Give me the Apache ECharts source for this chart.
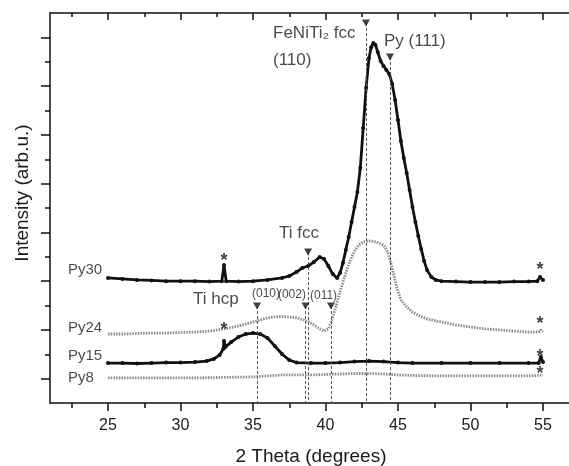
<!DOCTYPE html>
<html>
<head>
<meta charset="utf-8">
<script src="https://cdn.jsdelivr.net/npm/echarts@6/dist/echarts.min.js"></script>
<style>
  html, body { margin: 0; padding: 0; background: #fff; }
  #chart { width: 569px; height: 466px; }
</style>
</head>
<body>
<div id="chart"></div>
<script>
// 2 theta vs intensity (arb. units, offset stacked)
const py30 = [
  [25, 5.13], [26, 5.09], [27, 5.05], [28, 5.03], [29, 5.0], [30, 5.0], [31, 5.0], [32, 4.98],
  [32.85, 5.0], [33.0, 5.66], [33.15, 5.0], [34, 4.98], [35, 5.0], [36, 5.05], [37, 5.13],
  [37.5, 5.21], [38.0, 5.37], [38.4, 5.54], [38.8, 5.62], [39.2, 5.78], [39.6, 5.99], [39.9, 5.91],
  [40.2, 5.62], [40.5, 5.29], [40.8, 5.13], [41.0, 5.33], [41.2, 5.74], [41.4, 6.28], [41.6, 6.81],
  [41.8, 7.43], [42.0, 8.04], [42.2, 8.66], [42.4, 9.64], [42.6, 11.28], [42.8, 12.92], [43.0, 14.15],
  [43.15, 14.6], [43.3, 14.77], [43.45, 14.69], [43.6, 14.4], [43.8, 14.03], [44.0, 13.83],
  [44.2, 13.66], [44.4, 13.5], [44.6, 13.09], [44.8, 12.43], [45.0, 11.61], [45.2, 10.75],
  [45.4, 10.05], [45.6, 9.44], [45.8, 8.74], [46.0, 8.04], [46.2, 7.43], [46.4, 6.85], [46.6, 6.32],
  [46.8, 5.83], [47.0, 5.46], [47.3, 5.17], [47.6, 5.05], [48, 5.0], [49, 4.98], [50, 4.96],
  [51, 4.96], [52, 4.96], [53, 4.98], [54, 4.98], [54.6, 5.0], [54.8, 5.17], [55, 5.05]
];
const py24 = [
  [25, 2.83], [26, 2.83], [27, 2.85], [28, 2.87], [29, 2.87], [30, 2.89], [31, 2.91], [32, 2.95],
  [33, 3.04], [34, 3.16], [35, 3.32], [35.5, 3.41], [36, 3.49], [36.5, 3.53], [37, 3.55], [37.5, 3.53],
  [38, 3.49], [38.5, 3.41], [39, 3.28], [39.5, 3.08], [39.9, 2.95], [40.2, 3.04], [40.5, 3.49],
  [40.8, 4.14], [41.1, 4.76], [41.4, 5.33], [41.7, 5.83], [42.0, 6.24], [42.3, 6.48], [42.6, 6.61],
  [43.0, 6.65], [43.5, 6.61], [44.0, 6.48], [44.3, 6.19], [44.6, 5.54], [44.9, 4.76], [45.2, 4.23],
  [45.6, 3.94], [46.0, 3.73], [46.5, 3.57], [47, 3.45], [48, 3.32], [49, 3.2], [50, 3.12], [51, 3.04],
  [52, 3.0], [53, 2.95], [54, 2.91], [54.7, 2.91], [54.85, 3.0], [55, 2.91]
];
const py15 = [
  [25, 1.64], [26, 1.64], [27, 1.62], [28, 1.64], [29, 1.66], [30, 1.66], [31, 1.68], [31.8, 1.72],
  [32.3, 1.81], [32.7, 1.97], [32.95, 2.22], [33.0, 2.54], [33.1, 2.3], [33.5, 2.5], [34.0, 2.71],
  [34.5, 2.83], [35.0, 2.87], [35.5, 2.83], [36.0, 2.67], [36.5, 2.34], [37.0, 2.01], [37.5, 1.76],
  [38, 1.66], [39, 1.64], [40, 1.64], [41, 1.66], [42, 1.7], [43, 1.72], [44, 1.7], [45, 1.66],
  [46, 1.64], [48, 1.64], [50, 1.64], [52, 1.64], [54, 1.64], [54.7, 1.64], [54.85, 1.89], [55, 1.68]
];
const py8 = [
  [25, 1.03], [27, 1.03], [29, 1.03], [31, 1.03], [33, 1.05], [35, 1.07], [36, 1.11], [37, 1.15],
  [38, 1.15], [39, 1.15], [40, 1.17], [41, 1.19], [42, 1.21], [43, 1.21], [44, 1.19], [45, 1.15],
  [46, 1.13], [48, 1.11], [50, 1.11], [52, 1.11], [54, 1.11], [55, 1.15]
];

// reflection markers: [2theta, height of the triangle]
const peakMarks = [[42.79, 15.59], [44.45, 14.19], [38.8, 6.19], [35.28, 3.98], [38.62, 3.98], [40.38, 3.98]];
// impurity asterisks
const starMarks = [[33.0, 5.99], [33.0, 3.16], [54.8, 5.62], [54.8, 3.41], [54.8, 2.05], [54.8, 1.35]];

// annotation text: [x, y, text, font size]
const notes = [
  [22.24, 5.46, 'Py30', 15], [22.24, 3.08, 'Py24', 15], [22.24, 1.93, 'Py15', 15], [22.24, 1.03, 'Py8', 15],
  [36.38, 15.18, 'FeNiTi\u2082 fcc', 17], [36.38, 14.07, '(110)', 17], [44.03, 14.85, 'Py (111)', 17],
  [36.8, 6.97, 'Ti fcc', 17], [30.86, 4.27, 'Ti hcp', 17],
  [34.93, 4.47, '(010)', 12], [36.72, 4.43, '(002)', 12], [38.93, 4.39, '(011)', 12]
];

const xMajor = [25, 30, 35, 40, 45, 50, 55];
const xMinor = [22.5, 27.5, 32.5, 37.5, 42.5, 47.5, 52.5];
const yMajor = [1, 3, 5, 7, 9, 11, 13, 15];
const yMinor = [2, 4, 6, 8, 10, 12, 14];

const font = 'Liberation Sans, Arial, sans-serif';
const ink = '#111';
const textInk = '#1a1a1a';

function tickAxis(pos, values, len, inside, withLine, withLabel) {
  return {
    type: 'value', min: 21, max: 57, position: pos,
    axisLine: { show: withLine, lineStyle: { color: ink, width: 1.5 } },
    axisTick: { show: true, customValues: values, length: len, inside: inside, lineStyle: { color: ink, width: 1.5 } },
    axisLabel: withLabel
      ? { show: true, customValues: values, fontSize: 16, color: textInk, fontFamily: font, margin: 15 }
      : { show: false },
    splitLine: { show: false }
  };
}

const chart = echarts.init(document.getElementById('chart'));

const blackLine = (name, data) => ({
  name: name, type: 'line', data: data,
  showSymbol: true, symbol: 'circle', symbolSize: 4,
  itemStyle: { color: ink },
  lineStyle: { color: ink, width: 2.8 },
  animation: false, z: 3
});
const grayLine = (name, data) => ({
  name: name, type: 'line', data: data,
  showSymbol: false,
  lineStyle: { color: '#8a8a8a', width: 2.8, type: [1.5, 1.2] },
  animation: false, z: 2
});

chart.setOption({
  backgroundColor: '#fff',
  animation: false,
  grid: { left: 50, top: 13, right: -3, bottom: 63, outerBoundsMode: 'none' },
  xAxis: [
    Object.assign(tickAxis('bottom', xMajor, 8, false, true, true), {
      name: '2 Theta (degrees)', nameLocation: 'middle', nameGap: 44,
      nameTextStyle: { fontSize: 19, color: textInk, fontFamily: font }
    }),
    tickAxis('bottom', xMinor, 5, false, false, false),
    tickAxis('top', xMajor, 7, true, true, false),
    tickAxis('top', xMinor, 4, true, false, false)
  ],
  yAxis: [
    {
      type: 'value', min: 0, max: 16, position: 'left',
      axisLine: { show: true, lineStyle: { color: ink, width: 1.5 } },
      axisTick: { show: true, customValues: yMajor, length: 9, lineStyle: { color: ink, width: 1.5 } },
      axisLabel: { show: false }, splitLine: { show: false }
    },
    {
      type: 'value', min: 0, max: 16, position: 'left',
      axisLine: { show: false },
      axisTick: { show: true, customValues: yMinor, length: 5, lineStyle: { color: ink, width: 1.5 } },
      axisLabel: { show: false }, splitLine: { show: false }
    }
  ],
  graphic: [{
    type: 'text', x: 23, y: 193, rotation: Math.PI / 2,
    style: { text: 'Intensity (arb.u.)', fontSize: 19, fill: textInk, fontFamily: font, align: 'center', verticalAlign: 'middle' }
  }],
  series: [
    grayLine('Py8', py8),
    blackLine('Py15', py15),
    grayLine('Py24', py24),
    blackLine('Py30', py30),
    {
      name: 'marks', type: 'scatter', data: peakMarks,
      symbol: 'triangle', symbolRotate: 180, symbolSize: [8, 7],
      itemStyle: { color: ink }, z: 5,
      markLine: {
        silent: true, symbol: 'none', animation: false,
        label: { show: false },
        lineStyle: { color: '#555', width: 1, type: [3, 2] },
        data: peakMarks.map(p => [{ coord: [p[0], p[1]] }, { coord: [p[0], 0] }])
      }
    },
    {
      name: 'stars', type: 'scatter', data: starMarks, symbolSize: 0,
      label: { show: true, position: [0, 0], formatter: '*', fontSize: 18, fontWeight: 'bold', color: ink, fontFamily: font,
        align: 'center', verticalAlign: 'middle', offset: [0, 4] },
      z: 5
    },
    {
      name: 'notes', type: 'scatter', symbolSize: 0, z: 6,
      data: notes.map(n => ({
        value: [n[0], n[1]],
        label: { formatter: n[2], fontSize: n[3] }
      })),
      label: { show: true, position: [0, 0], align: 'left', verticalAlign: 'middle', color: textInk, fontFamily: font }
    }
  ]
});
</script>
</body>
</html>
